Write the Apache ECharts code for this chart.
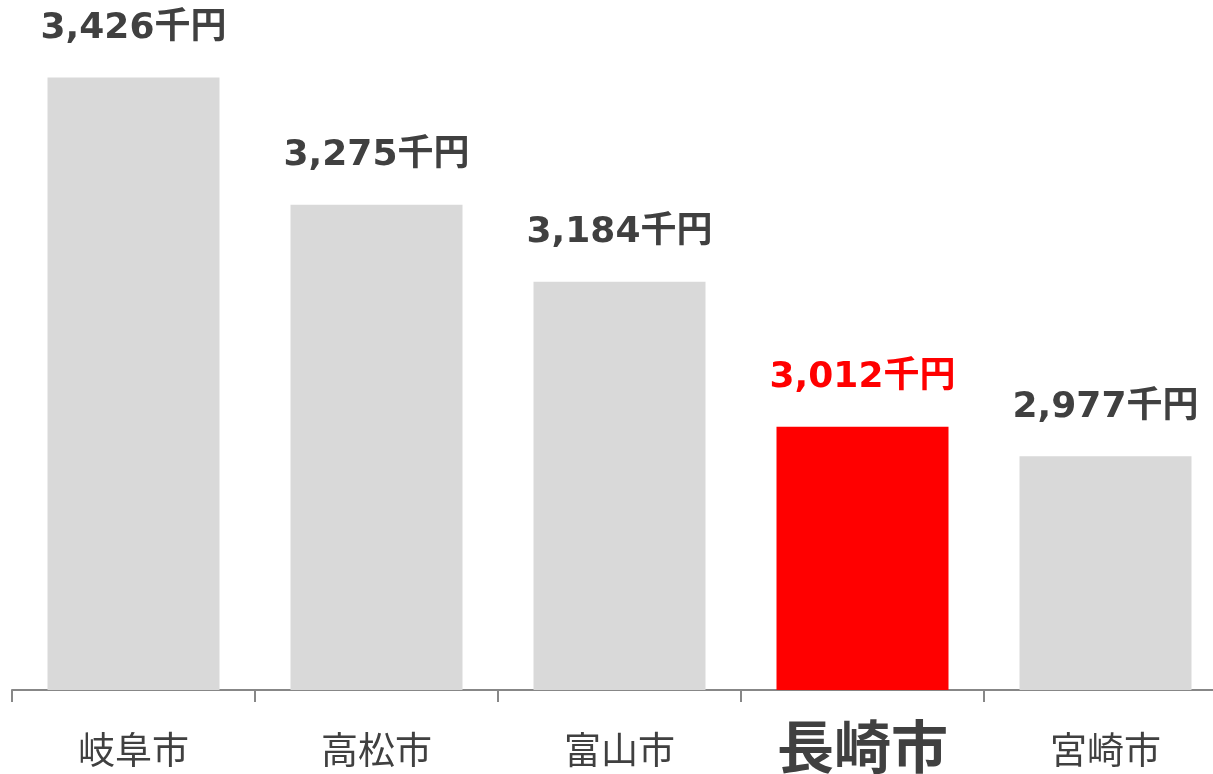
<!DOCTYPE html>
<html>
<head>
<meta charset="utf-8">
<script src="https://cdn.jsdelivr.net/npm/echarts@6/dist/echarts.min.js"></script>
<style>
  html, body { margin: 0; padding: 0; background: #fff; }
  #chart { width: 1213px; height: 774px; }
</style>
</head>
<body>
<div id="chart"></div>
<script>
const cities = ['岐阜市', '高松市', '富山市', '長崎市', '宮崎市']
const incomes = [3426, 3275, 3184, 3012, 2977]
const highlightCity = '長崎市'

const cjkFont = '"Noto Sans CJK JP", sans-serif'
const numFont = '"DejaVu Sans", "Noto Sans CJK JP", sans-serif'

const chart = echarts.init(document.getElementById('chart'))

chart.setOption({
  animation: false,
  grid: { left: 12, right: -14, top: 15, bottom: 84, outerBoundsMode: 'none', containLabel: false },
  xAxis: {
    type: 'category',
    data: cities,
    axisLine: { lineStyle: { color: '#878787', width: 2 } },
    axisTick: { show: true, length: 12, lineStyle: { color: '#878787', width: 2 } },
    axisLabel: {
      margin: 28,
      formatter: (v) => v === highlightCity ? `{hi|${v}}` : `{n|${v}}`,
      rich: {
        n: { fontSize: 37, color: '#404040', fontFamily: cjkFont, padding: [13, 0, 0, 0] },
        hi: { fontSize: 57, fontWeight: 'bold', color: '#404040', fontFamily: cjkFont }
      }
    }
  },
  yAxis: { type: 'value', min: 2700, max: 3500, show: false },
  series: [
    {
      type: 'bar',
      barWidth: 172,
      data: incomes.map((v, i) => ({
        value: v,
        itemStyle: { color: cities[i] === highlightCity ? '#ff0000' : '#d9d9d9' },
        label: { color: cities[i] === highlightCity ? '#ff0000' : '#404040' }
      })),
      label: {
        show: true,
        position: 'top',
        distance: 31,
        fontSize: 36,
        fontWeight: 'bold',
        fontFamily: numFont,
        formatter: (p) => p.value.toLocaleString('en-US') + '千円'
      }
    }
  ]
})
</script>
</body>
</html>
